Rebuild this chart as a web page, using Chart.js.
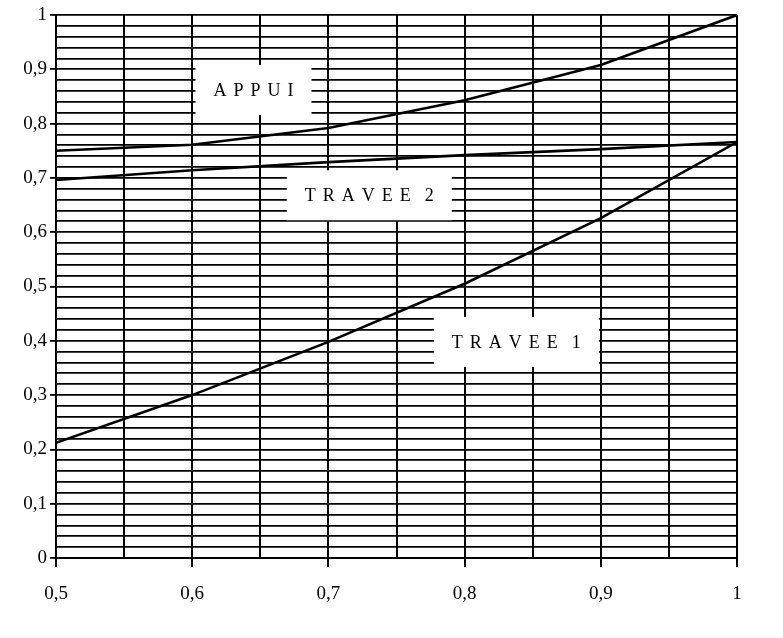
<!DOCTYPE html>
<html>
<head>
<meta charset="utf-8">
<script src="https://cdn.jsdelivr.net/npm/chart.js@4/dist/chart.umd.min.js"></script>
<style>
  html, body { margin: 0; padding: 0; background: #fff; }
  #wrap { width: 783px; height: 638px; }
</style>
</head>
<body>
<div id="wrap"><canvas id="c" width="783" height="638"></canvas></div>
<script>
// Abscissa points shared by the three curves
const xValues = [0.5, 0.6, 0.7, 0.8, 0.9, 1.0];

// Curve values
const appui   = [0.750, 0.761, 0.792, 0.843, 0.908, 1.000];
const travee2 = [0.696, 0.714, 0.729, 0.742, 0.753, 0.766];
const travee1 = [0.212, 0.300, 0.398, 0.505, 0.626, 0.766];

// Labelled ticks
const xTickValues = [0.5, 0.6, 0.7, 0.8, 0.9, 1.0];
const xTickLabels = ['0,5', '0,6', '0,7', '0,8', '0,9', '1'];
const yTickValues = [0, 0.1, 0.2, 0.3, 0.4, 0.5, 0.6, 0.7, 0.8, 0.9, 1.0];
const yTickLabels = ['0', '0,1', '0,2', '0,3', '0,4', '0,5', '0,6', '0,7', '0,8', '0,9', '1'];

// Grid spacing
const xGridStep = 0.05;
const yGridStep = 0.02;

// Curve names, placed in data coordinates
const curveNames = ['APPUI', 'TRAVEE 2', 'TRAVEE 1'];
const curveNameX = [0.645, 0.73, 0.838];
const curveNameY = [0.862, 0.668, 0.398];

const FONT = "'Liberation Serif', 'Times New Roman', Times, serif";

function toPoints(ys) {
  return xValues.map((x, i) => ({ x: x, y: ys[i] }));
}

function labelFor(values, labels, v) {
  const i = values.findIndex(t => Math.abs(t - v) < 1e-9);
  return i >= 0 ? labels[i] : '';
}

function gridTicks(min, max, step) {
  const n = Math.round((max - min) / step);
  const out = [];
  for (let i = 0; i <= n; i++) out.push({ value: +(min + i * step).toFixed(6) });
  return out;
}

// White boxes with spaced capitals naming each curve
const curveNamePlugin = {
  id: 'curveNames',
  beforeDatasetsDraw(chart) {
    const { ctx, scales } = chart;
    ctx.save();
    ctx.font = '18px ' + FONT;
    ctx.textBaseline = 'middle';
    const spacing = 7;
    curveNames.forEach((name, i) => {
      const cx = scales.x.getPixelForValue(curveNameX[i]);
      const cy = scales.y.getPixelForValue(curveNameY[i]);
      // letter-spaced capitals with a narrow word gap
      const chars = name.split('');
      const adv = chars.map(ch => ch === ' ' ? 0 : ctx.measureText(ch).width);
      let w = 0;
      adv.forEach((a, k) => { w += a + (k < adv.length - 1 ? spacing : 0); });
      const boxW = w + 36, boxH = 50;
      ctx.fillStyle = '#fff';
      ctx.fillRect(cx - boxW / 2, cy - boxH / 2, boxW, boxH);
      ctx.fillStyle = '#000';
      let x = cx - w / 2;
      chars.forEach((ch, k) => {
        if (ch !== ' ') ctx.fillText(ch, x, cy + 1);
        x += adv[k] + spacing;
      });
    });
    ctx.restore();
  }
};

const lineStyle = {
  borderColor: '#000',
  borderWidth: 2.6,
  pointRadius: 0,
  fill: false,
  tension: 0
};

new Chart(document.getElementById('c'), {
  type: 'line',
  data: {
    datasets: [
      Object.assign({ label: 'APPUI', data: toPoints(appui) }, lineStyle),
      Object.assign({ label: 'TRAVEE 2', data: toPoints(travee2) }, lineStyle),
      Object.assign({ label: 'TRAVEE 1', data: toPoints(travee1) }, lineStyle)
    ]
  },
  options: {
    responsive: false,
    animation: false,
    devicePixelRatio: 1,
    layout: { padding: { top: 15, right: 46, left: 0, bottom: 0 } },
    plugins: {
      legend: { display: false },
      tooltip: { enabled: false }
    },
    scales: {
      x: {
        type: 'linear',
        min: 0.5,
        max: 1.0,
        afterBuildTicks: s => { s.ticks = gridTicks(0.5, 1.0, xGridStep); },
        afterFit: s => { s.height = 80; },
        grid: {
          color: '#000',
          lineWidth: 2,
          tickLength: 9,
          tickColor: c => labelFor(xTickValues, xTickLabels, c.tick.value) ? '#000' : 'rgba(0,0,0,0)'
        },
        border: { color: '#000', width: 2 },
        ticks: {
          autoSkip: false,
          maxRotation: 0,
          padding: 16,
          color: '#000',
          font: { family: FONT, size: 19 },
          callback: v => labelFor(xTickValues, xTickLabels, v)
        }
      },
      y: {
        type: 'linear',
        min: 0,
        max: 1,
        afterBuildTicks: s => { s.ticks = gridTicks(0, 1, yGridStep); },
        afterFit: s => { s.width = 56; },
        grid: {
          color: '#000',
          lineWidth: 1.8,
          tickLength: 6,
          tickColor: c => labelFor(yTickValues, yTickLabels, c.tick.value) ? '#000' : 'rgba(0,0,0,0)'
        },
        border: { color: '#000', width: 2 },
        ticks: {
          autoSkip: false,
          padding: 3,
          color: '#000',
          font: { family: FONT, size: 19 },
          callback: v => labelFor(yTickValues, yTickLabels, v)
        }
      }
    }
  },
  plugins: [curveNamePlugin]
});
</script>
</body>
</html>
